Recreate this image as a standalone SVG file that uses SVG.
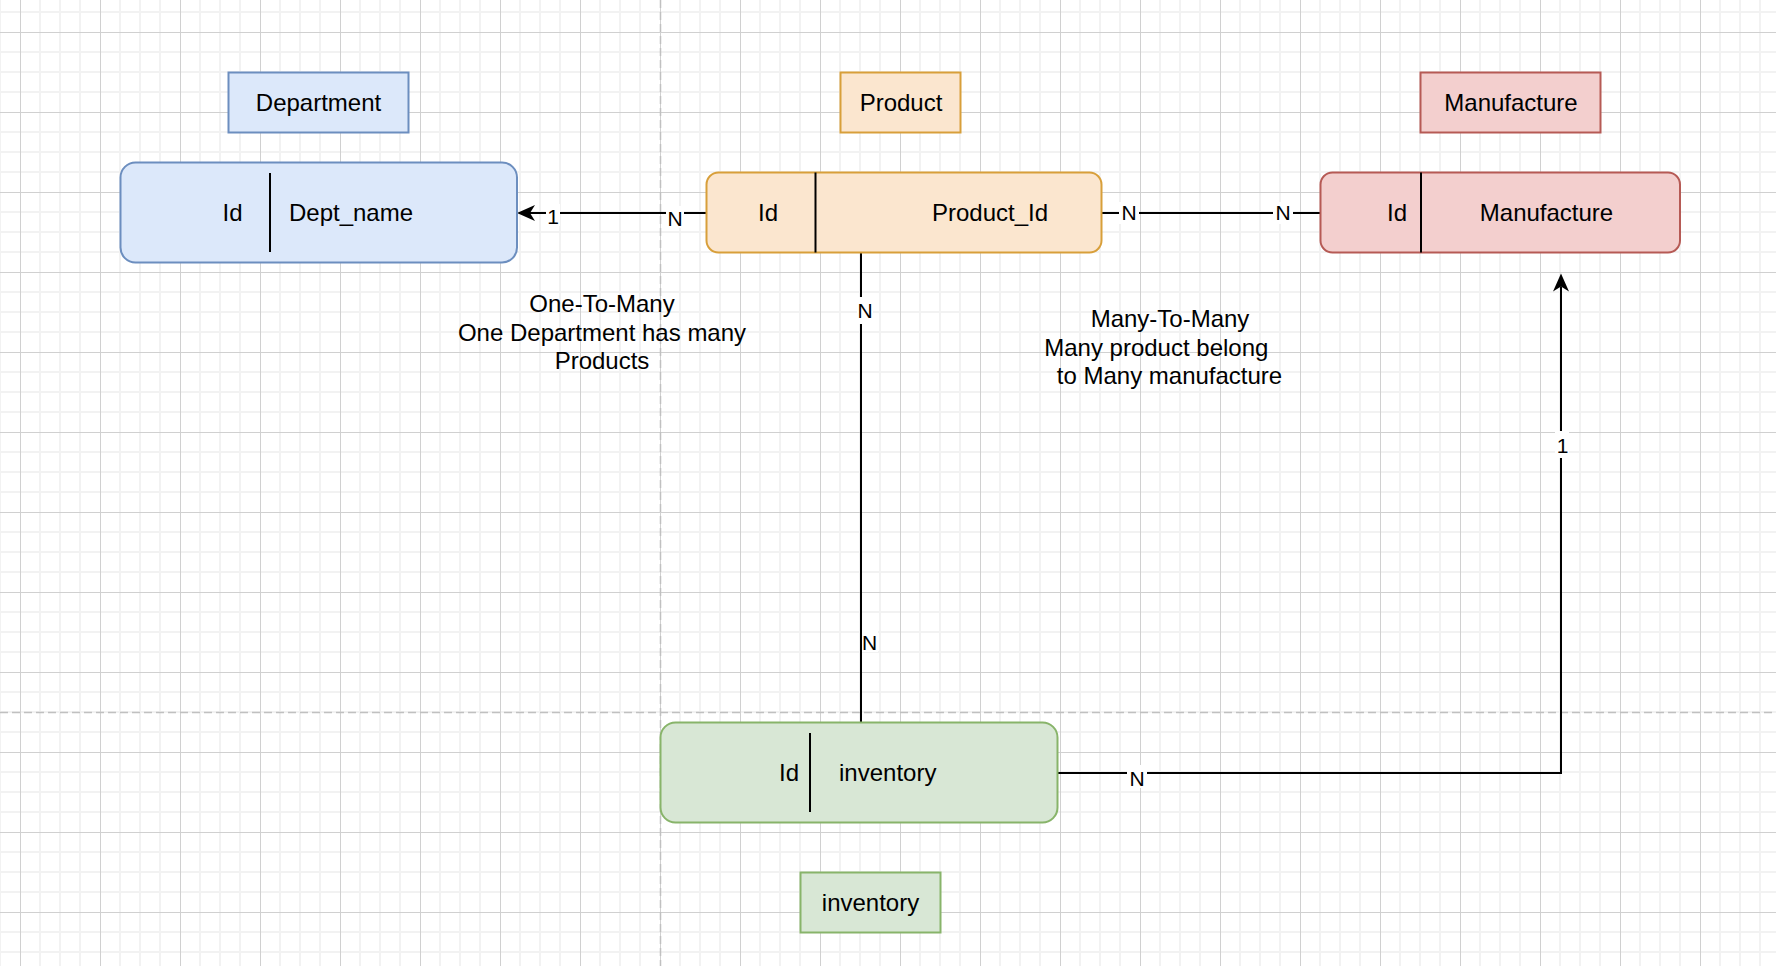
<svg xmlns="http://www.w3.org/2000/svg" width="1776" height="966" viewBox="0 0 1776 966">
<style>
.t{font-family:"Liberation Sans",Arial,Helvetica,sans-serif;fill:#000;text-anchor:middle}
.f24{font-size:24px}
.f20{font-size:21px}
.edge{fill:none;stroke:#000;stroke-width:2}
.div{stroke:#000;stroke-width:2}
.lbg{fill:#fff}
.blue{fill:#dce8fa;stroke:#6c8ebf;stroke-width:2}
.orange{fill:#fbe6cf;stroke:#d89f3a;stroke-width:2}
.red{fill:#f3cfce;stroke:#b65a55;stroke-width:2}
.green{fill:#d8e7d5;stroke:#88b46a;stroke-width:2}
.page{stroke:#c0c0c0;stroke-width:1.5;stroke-dasharray:8 4;fill:none}
</style>
<defs>
<pattern id="grid" patternUnits="userSpaceOnUse" x="20" y="32" width="80" height="80">
<rect x="19" y="0" width="2" height="80" fill="#f2f2f2"/>
<rect x="39" y="0" width="2" height="80" fill="#f2f2f2"/>
<rect x="59" y="0" width="2" height="80" fill="#f2f2f2"/>
<rect x="0" y="19" width="80" height="2" fill="#f2f2f2"/>
<rect x="0" y="39" width="80" height="2" fill="#f2f2f2"/>
<rect x="0" y="59" width="80" height="2" fill="#f2f2f2"/>
<rect x="0" y="0" width="1" height="80" fill="#d0d0d0"/>
<rect x="0" y="0" width="80" height="1" fill="#d0d0d0"/>
</pattern>
<marker id="arr" markerUnits="userSpaceOnUse" markerWidth="18" markerHeight="16" refX="5" refY="8" orient="auto" overflow="visible">
<path d="M18,8 L0,0 L5,8 L0,16 Z" fill="#000" stroke="none"/>
</marker>
</defs>
<rect x="0" y="0" width="1776" height="966" fill="#fff"/>
<rect x="0" y="0" width="1776" height="966" fill="url(#grid)"/>
<line class="page" x1="660.5" y1="0" x2="660.5" y2="966"/>
<line class="page" x1="0" y1="712.5" x2="1776" y2="712.5"/>

<g id="connectors">
<path class="edge" d="M706.5,213 L530,213" marker-end="url(#arr)"/>
<path class="edge" d="M1101.5,213 L1320.5,213"/>
<path class="edge" d="M861,252.5 L861,722.5"/>
<path class="edge" d="M1057.5,773 L1561,773 L1561,286.5" marker-end="url(#arr)"/>
<rect class="lbg" x="546" y="204" width="14" height="22"/>
<text class="t f20" x="553" y="224">1</text>
<rect class="lbg" x="666" y="206" width="18" height="22"/>
<text class="t f20" x="675" y="226">N</text>
<rect class="lbg" x="1119" y="202" width="20" height="22"/>
<text class="t f20" x="1129" y="220">N</text>
<rect class="lbg" x="1273" y="202" width="20" height="22"/>
<text class="t f20" x="1283" y="220">N</text>
<rect class="lbg" x="857" y="297" width="16" height="27"/>
<text class="t f20" x="865" y="318">N</text>
<rect class="lbg" x="862" y="629" width="16" height="23"/>
<text class="t f20" x="869.5" y="650">N</text>
<rect class="lbg" x="1127" y="765" width="20" height="23"/>
<text class="t f20" x="1137" y="786">N</text>
<rect class="lbg" x="1555" y="431" width="14" height="27"/>
<text class="t f20" x="1562.5" y="452.5">1</text>
</g>

<g id="department-label">
<rect class="blue" x="228.5" y="72.5" width="180" height="60"/>
<text class="t f24" x="318.5" y="111">Department</text>
</g>
<g id="product-label">
<rect class="orange" x="840.5" y="72.5" width="120" height="60"/>
<text class="t f24" x="901" y="111">Product</text>
</g>
<g id="manufacture-label">
<rect class="red" x="1420.5" y="72.5" width="180" height="60"/>
<text class="t f24" x="1511" y="111">Manufacture</text>
</g>
<g id="inventory-label">
<rect class="green" x="800.5" y="872.5" width="140" height="60"/>
<text class="t f24" x="870.5" y="910.5">inventory</text>
</g>

<g id="department">
<rect class="blue" x="120.5" y="162.5" width="396.5" height="100" rx="15" ry="15"/>
<line class="div" x1="270" y1="173" x2="270" y2="252"/>
<text class="t f24" x="232.5" y="221">Id</text>
<text class="t f24" x="351" y="221">Dept_name</text>
</g>
<g id="product">
<rect class="orange" x="706.5" y="172.5" width="395" height="80" rx="12" ry="12"/>
<line class="div" x1="815.5" y1="172.5" x2="815.5" y2="252.5"/>
<text class="t f24" x="768" y="221">Id</text>
<text class="t f24" x="990" y="221">Product_Id</text>
</g>
<g id="manufacture">
<rect class="red" x="1320.5" y="172.5" width="359.5" height="80" rx="12" ry="12"/>
<line class="div" x1="1421" y1="172.5" x2="1421" y2="252.5"/>
<text class="t f24" x="1397" y="221">Id</text>
<text class="t f24" x="1546.5" y="221">Manufacture</text>
</g>
<g id="inventory">
<rect class="green" x="660.5" y="722.5" width="397" height="100" rx="15" ry="15"/>
<line class="div" x1="810" y1="733" x2="810" y2="812"/>
<text class="t f24" x="789" y="781">Id</text>
<text class="t f24" x="887.7" y="781">inventory</text>
</g>

<g id="one-to-many-note">
<text class="t f24" x="602" y="312">One-To-Many</text>
<text class="t f24" x="602" y="340.5">One Department has many</text>
<text class="t f24" x="602" y="369">Products</text>
</g>
<g id="many-to-many-note">
<text class="t f24" x="1170" y="326.5">Many-To-Many</text>
<text class="t f24" x="1156.3" y="355.5">Many product belong</text>
<text class="t f24" x="1169.5" y="384.3">to Many manufacture</text>
</g>
</svg>
